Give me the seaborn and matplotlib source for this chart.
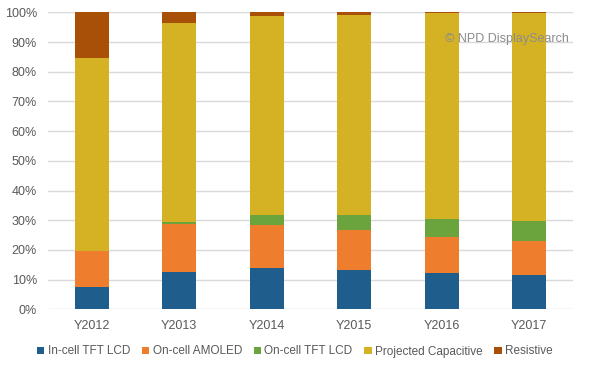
import numpy as np
import pandas as pd
import matplotlib
matplotlib.use('Agg')
import matplotlib.pyplot as plt
import seaborn as sns
from matplotlib.patches import Patch
from matplotlib.ticker import PercentFormatter

# Touch panel technology share by year (fractions of 100%)
years = ['Y2012', 'Y2013', 'Y2014', 'Y2015', 'Y2016', 'Y2017']
series = ['In-cell TFT LCD', 'On-cell AMOLED', 'On-cell TFT LCD',
          'Projected Capacitive', 'Resistive']
in_cell_tft = [7.5, 12.5, 13.8, 13.2, 12.1, 11.4]
on_cell_amoled = [12.0, 16.1, 14.6, 13.6, 12.2, 11.6]
on_cell_tft = [0.0, 0.7, 3.5, 5.1, 6.1, 6.7]
projected_cap = [65.1, 67.1, 66.9, 67.2, 69.3, 70.1]
resistive = [15.4, 3.6, 1.2, 0.9, 0.3, 0.2]
colors = ['#1F5D8C', '#EE7D2D', '#6BA33C', '#D5B223', '#A84F08']

df = pd.DataFrame({
    'year': years,
    series[0]: in_cell_tft,
    series[1]: on_cell_amoled,
    series[2]: on_cell_tft,
    series[3]: projected_cap,
    series[4]: resistive,
})
# cumulative tops, so each layer can be drawn over the one above it
cum = df[series].cumsum(axis=1) / 100.0
cum['year'] = df['year']

sns.set_theme(style='white')
plt.rcParams['font.family'] = ['Liberation Sans', 'DejaVu Sans']

fig = plt.figure(figsize=(5.9, 3.7), dpi=100)
ax = fig.add_axes([0.0814, 0.164, 0.8896, 0.8026])

for name, col in reversed(list(zip(series, colors))):
    sns.barplot(data=cum, x='year', y=name, color=col, width=0.39,
                saturation=1, ax=ax, linewidth=0, zorder=3)

ax.set_ylim(0, 1)
ax.set_xlim(-0.5, len(years) - 0.5)
ax.yaxis.set_major_locator(plt.MultipleLocator(0.1))
ax.yaxis.set_major_formatter(PercentFormatter(1.0, decimals=0))
ax.grid(axis='y', color='#D9D9D9', linewidth=1, zorder=0)
ax.set_axisbelow(True)
for s in ax.spines.values():
    s.set_visible(False)
ax.set_xlabel('')
ax.set_ylabel('')
ax.tick_params(axis='both', length=0, labelsize=9, colors='#595959')
ax.tick_params(axis='y', pad=8)
ax.tick_params(axis='x', pad=8)

ax.text(0.993, 0.91, '\u00a9 NPD DisplaySearch', transform=ax.transAxes,
        ha='right', va='center', fontsize=9, color='#8C8C8C', zorder=5)

handles = [Patch(facecolor=c, edgecolor='none') for c in colors]
fig.legend(handles, series, loc='center', bbox_to_anchor=(0.5, 0.05),
           ncol=5, frameon=False, fontsize=8.5, handlelength=0.6,
           handleheight=0.6, handletextpad=0.3, columnspacing=1.0,
           labelcolor='#595959')

fig.savefig('out.png', dpi=100)
